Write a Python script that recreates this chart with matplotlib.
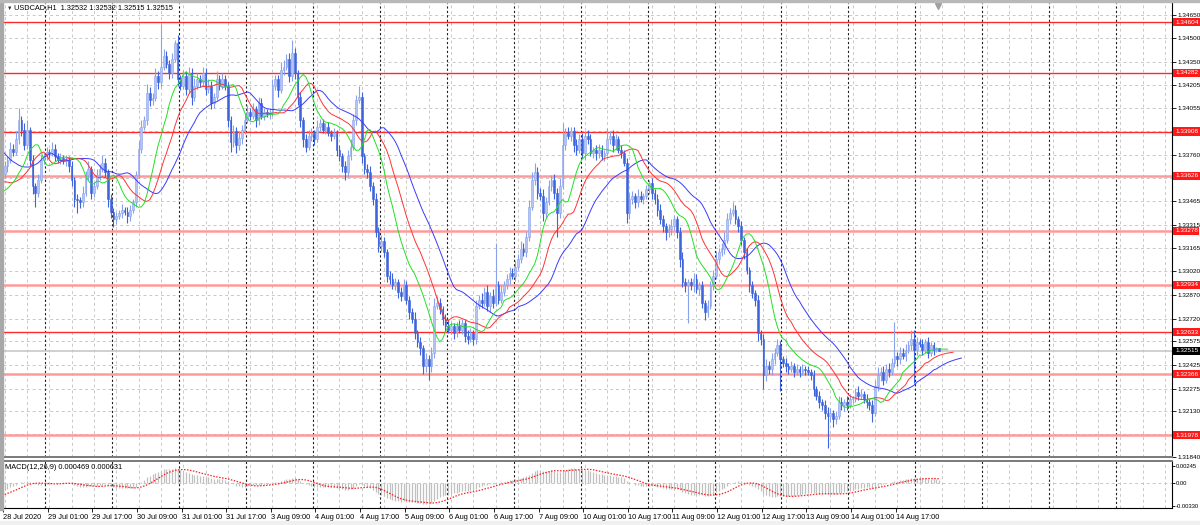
import numpy as np
import pandas as pd
import matplotlib
matplotlib.use("Agg")
import matplotlib.pyplot as plt
import matplotlib.transforms as mtransforms
from matplotlib.patches import Rectangle

# USDCAD H1 closes, 28 Jul 2020 09:00 .. 17 Aug 2020 08:00 (weekends skipped)
closes = [
    1.3369, 1.3373, 1.3380, 1.3378, 1.3386, 1.3398, 1.3392, 1.3382, 1.3392, 1.3373, 1.3356, 1.3352,
    1.3360, 1.3373, 1.3375, 1.3378, 1.3377, 1.3380, 1.3375, 1.3373, 1.3374, 1.3372, 1.3373, 1.3369,
    1.3360, 1.3348, 1.3347, 1.3346, 1.3352, 1.3363, 1.3367, 1.3352, 1.3356, 1.3363, 1.3367, 1.3371,
    1.3365, 1.3348, 1.3340, 1.3335, 1.3337, 1.3339, 1.3341, 1.3340, 1.3337, 1.3341, 1.3346, 1.3363,
    1.3380, 1.3394, 1.3398, 1.3415, 1.3411, 1.3412, 1.3426, 1.3422, 1.3432, 1.3439, 1.3434, 1.3428,
    1.3437, 1.3447, 1.3424, 1.3420, 1.3426, 1.3418, 1.3428, 1.3413, 1.3420, 1.3424, 1.3422, 1.3428,
    1.3418, 1.3420, 1.3409, 1.3413, 1.3424, 1.3420, 1.3424, 1.3420, 1.3398, 1.3384, 1.3391, 1.3382,
    1.3387, 1.3392, 1.3398, 1.3403, 1.3401, 1.3405, 1.3398, 1.3409, 1.3401, 1.3403, 1.3402, 1.3403,
    1.3420, 1.3424, 1.3417, 1.3430, 1.3432, 1.3437, 1.3426, 1.3441, 1.3428, 1.3413, 1.3398, 1.3386,
    1.3381, 1.3388, 1.3390, 1.3386, 1.3394, 1.3396, 1.3392, 1.3394, 1.3390, 1.3388, 1.3390, 1.3379,
    1.3375, 1.3369, 1.3365, 1.3375, 1.3381, 1.3398, 1.3411, 1.3413, 1.3375, 1.3367, 1.3365, 1.3356,
    1.3348, 1.3327, 1.3318, 1.3321, 1.3314, 1.3299, 1.3297, 1.3293, 1.3295, 1.3289, 1.3286, 1.3293,
    1.3284, 1.3276, 1.3272, 1.3263, 1.3257, 1.3253, 1.3242, 1.3246, 1.3242, 1.3250, 1.3280, 1.3282,
    1.3278, 1.3272, 1.3267, 1.3265, 1.3267, 1.3263, 1.3267, 1.3265, 1.3269, 1.3261, 1.3259, 1.3263,
    1.3259, 1.3280, 1.3284, 1.3282, 1.3289, 1.3280, 1.3286, 1.3282, 1.3293, 1.3284, 1.3289, 1.3293,
    1.3297, 1.3301, 1.3299, 1.3305, 1.3310, 1.3316, 1.3314, 1.3324, 1.3343, 1.3360, 1.3365, 1.3352,
    1.3350, 1.3339, 1.3346, 1.3356, 1.3360, 1.3352, 1.3339, 1.3356, 1.3382, 1.3390, 1.3388, 1.3391,
    1.3382, 1.3379, 1.3386, 1.3377, 1.3388, 1.3386, 1.3377, 1.3379, 1.3377, 1.3379, 1.3375, 1.3377,
    1.3386, 1.3388, 1.3382, 1.3386, 1.3379, 1.3377, 1.3371, 1.3339, 1.3348, 1.3350, 1.3346, 1.3350,
    1.3348, 1.3350, 1.3354, 1.3358, 1.3352, 1.3348, 1.3341, 1.3335, 1.3331, 1.3327, 1.3329, 1.3331,
    1.3335, 1.3327, 1.3310, 1.3295, 1.3293, 1.3295, 1.3293, 1.3297, 1.3291, 1.3293, 1.3282, 1.3276,
    1.3280, 1.3293, 1.3299, 1.3310, 1.3314, 1.3316, 1.3322, 1.3335, 1.3339, 1.3341, 1.3335, 1.3331,
    1.3322, 1.3314, 1.3303, 1.3293, 1.3288, 1.3284, 1.3263, 1.3259, 1.3236, 1.3242, 1.3240, 1.3246,
    1.3250, 1.3255, 1.3246, 1.3244, 1.3242, 1.3240, 1.3242, 1.3238, 1.3240, 1.3238, 1.3240, 1.3239,
    1.3238, 1.3236, 1.3227, 1.3223, 1.3219, 1.3217, 1.3212, 1.3210, 1.3212, 1.3208, 1.3210, 1.3219,
    1.3217, 1.3219, 1.3217, 1.3221, 1.3221, 1.3225, 1.3223, 1.3224, 1.3221, 1.3219, 1.3217, 1.3212,
    1.3229, 1.3236, 1.3238, 1.3233, 1.3240, 1.3238, 1.3244, 1.3248, 1.3246, 1.3250, 1.3248, 1.3252,
    1.3255, 1.3259, 1.3252, 1.3257, 1.3256, 1.3252, 1.3257, 1.3250, 1.3255, 1.3252, 1.3253, 1.32515,
]

# wick lengths in pips above / below the candle body
up_wick = [
    3, 2, 4, 3, 5, 8, 3, 4, 6, 2, 3, 2,
    4, 3, 2, 3, 2, 4, 3, 2, 3, 2, 3, 2,
    3, 2, 3, 2, 4, 3, 5, 2, 3, 4, 3, 5,
    3, 2, 3, 2, 3, 2, 4, 2, 3, 3, 2, 3,
    5, 4, 3, 6, 4, 3, 5, 3, 27, 4, 3, 2,
    4, 2, 5, 3, 4, 3, 4, 3, 5, 4, 3, 4,
    3, 4, 3, 2, 5, 3, 4, 3, 2, 3, 4, 3,
    4, 3, 4, 5, 3, 4, 2, 4, 3, 3, 2, 3,
    4, 3, 3, 5, 4, 3, 4, 8, 3, 2, 3, 2,
    3, 4, 3, 2, 4, 3, 3, 2, 3, 2, 3, 2,
    3, 2, 3, 4, 5, 4, 3, 7, 3, 2, 3, 4,
    3, 4, 3, 4, 3, 2, 3, 4, 3, 2, 3, 4,
    3, 2, 3, 4, 2, 3, 2, 4, 3, 4, 5, 4,
    3, 2, 3, 4, 3, 2, 3, 4, 3, 2, 4, 3,
    2, 4, 3, 4, 3, 4, 3, 5, 27, 3, 4, 3,
    3, 4, 3, 4, 3, 5, 4, 3, 4, 5, 6, 3,
    3, 4, 3, 4, 3, 4, 3, 5, 14, 3, 4, 3,
    3, 4, 3, 4, 3, 4, 3, 2, 3, 4, 3, 2,
    7, 3, 4, 3, 2, 3, 2, 3, 4, 3, 2, 4,
    3, 2, 3, 2, 3, 2, 3, 4, 3, 2, 3, 4,
    3, 2, 3, 4, 3, 2, 3, 4, 3, 2, 3, 2,
    4, 3, 4, 5, 3, 4, 5, 4, 3, 5, 3, 2,
    3, 2, 3, 2, 3, 2, 3, 2, 3, 4, 3, 4,
    3, 4, 3, 2, 3, 2, 3, 2, 3, 2, 3, 2,
    3, 2, 3, 2, 3, 2, 3, 4, 3, 2, 3, 4,
    3, 2, 4, 3, 2, 3, 4, 3, 2, 3, 2, 3,
    4, 5, 3, 4, 3, 4, 3, 22, 3, 4, 3, 4,
    3, 6, 6, 3, 2, 3, 2, 3, 2, 2, 1, 0,
]
down_wick = [
    3, 4, 2, 3, 2, 3, 4, 3, 2, 4, 5, 9,
    3, 2, 3, 2, 3, 2, 3, 2, 3, 2, 3, 4,
    4, 5, 8, 4, 3, 2, 3, 4, 3, 2, 3, 2,
    3, 5, 4, 5, 3, 2, 3, 2, 4, 3, 2, 3,
    2, 3, 2, 3, 4, 3, 2, 4, 3, 2, 3, 4,
    3, 2, 4, 3, 2, 4, 3, 5, 3, 2, 3, 2,
    4, 3, 4, 3, 2, 3, 2, 3, 4, 6, 3, 5,
    3, 4, 3, 2, 3, 2, 4, 3, 2, 3, 2, 3,
    2, 3, 4, 2, 3, 2, 4, 3, 4, 5, 4, 5,
    3, 2, 3, 4, 2, 3, 2, 3, 2, 3, 2, 4,
    3, 4, 5, 3, 2, 2, 3, 2, 4, 3, 4, 3,
    4, 3, 4, 3, 3, 4, 3, 2, 3, 4, 3, 2,
    3, 4, 3, 4, 3, 4, 5, 4, 9, 4, 3, 2,
    3, 4, 3, 2, 3, 4, 3, 2, 3, 4, 3, 2,
    4, 3, 2, 3, 2, 3, 4, 3, 2, 3, 2, 3,
    2, 3, 2, 3, 2, 3, 2, 3, 3, 2, 3, 4,
    3, 5, 3, 2, 3, 4, 15, 3, 2, 3, 2, 3,
    4, 3, 2, 3, 4, 3, 2, 3, 4, 3, 2, 3,
    2, 3, 4, 3, 2, 3, 2, 6, 4, 3, 4, 3,
    2, 3, 2, 3, 4, 3, 4, 3, 4, 5, 3, 4,
    3, 4, 5, 3, 4, 24, 3, 4, 3, 4, 3, 5,
    3, 2, 3, 2, 3, 2, 3, 2, 3, 2, 3, 4,
    3, 4, 3, 4, 3, 4, 5, 4, 9, 4, 3, 4,
    3, 2, 20, 3, 4, 3, 2, 3, 2, 3, 2, 3,
    2, 3, 4, 3, 4, 3, 4, 20, 4, 5, 3, 2,
    3, 4, 3, 2, 3, 2, 3, 2, 3, 4, 3, 6,
    2, 3, 4, 3, 2, 3, 2, 3, 4, 3, 2, 3,
    2, 3, 21, 3, 2, 3, 2, 3, 2, 3, 1, 0,
]

# bars before the visible window, only used to warm up the indicators
pre_closes = [
    1.3430, 1.3432, 1.3426, 1.3428, 1.3420, 1.3416, 1.3418, 1.3410, 1.3404, 1.3398,
    1.3392, 1.3385, 1.3378, 1.3370, 1.3362, 1.3355, 1.3348, 1.3342, 1.3338, 1.3340,
    1.3336, 1.3342, 1.3348, 1.3352, 1.3350, 1.3356, 1.3358, 1.3355, 1.3360, 1.3364,
]

level_lines = [1.34604, 1.34282, 1.33908, 1.33626, 1.33278, 1.32934, 1.32633, 1.32366, 1.31978]
level_thin = [True, True, True, False, False, False, True, False, False]
bid = 1.32515
price_ticks = [1.34650, 1.34500, 1.34350, 1.34205, 1.34055, 1.33910, 1.33760, 1.33615, 1.33465,
               1.33315, 1.33165, 1.33020, 1.32870, 1.32720, 1.32575, 1.32425, 1.32275, 1.32130,
               1.31985, 1.31840]
hidden_ticks = [1.33910, 1.33615, 1.31985]  # covered by the level tags
macd_ticks = [0.00245, 0.0, -0.00330]
macd_tick_labels = ["0.00245", "0.00", "-0.00330"]
header = "USDCAD,H1  1.32532 1.32532 1.32515 1.32515"
macd_header = "MACD(12,26,9) 0.000469 0.000631"

FONT = ["Liberation Sans", "DejaVu Sans"]
FS = 5.3    # chart texts
FS_AX = 4.6  # price scale
W, H = 1200, 525


def smma(values, n):
    return pd.Series(values).ewm(alpha=1.0 / n, adjust=False).mean().values


hours = pd.date_range("2020-07-28 09:00", "2020-08-17 08:00", freq="h")
times = hours[hours.dayofweek < 5]
n = len(closes)
assert len(times) == n == len(up_wick) == len(down_wick)

c = np.array(closes)
o = np.r_[pre_closes[-1], c[:-1]]
hi = np.maximum(o, c) + np.array(up_wick) * 1e-4
lo = np.minimum(o, c) - np.array(down_wick) * 1e-4
x = np.arange(n)

# indicators: alligator on median price, macd on close
npre = len(pre_closes)
x_full = np.arange(-npre, n)
median = np.r_[pre_closes, (hi + lo) / 2]
close_full = np.r_[pre_closes, c]
jaw = smma(median, 13)
teeth = smma(median, 8)
lips = smma(median, 5)
s = pd.Series(close_full)
macd_main = (s.ewm(span=12, adjust=False).mean() - s.ewm(span=26, adjust=False).mean()).values
macd_sig = pd.Series(macd_main).rolling(9, min_periods=1).mean().values

fig = plt.figure(figsize=(12, 5.25), dpi=100)
fig.patch.set_facecolor("white")
ax = fig.add_axes([3 / W, 1 - 457 / H, 1169 / W, 454 / H])
ax2 = fig.add_axes([3 / W, 1 - 508 / H, 1169 / W, 47 / H], sharex=ax)

x_left, x_right = -0.5, 418.5
ax.set_xlim(x_left, x_right)
ax.set_ylim(1.31845, 1.34725)
ax2.set_ylim(-0.0036, 0.0032)

# grid and period separators
grid_kw = dict(color="#c8c8c8", lw=0.7, ls=(0, (3, 3)), zorder=0)
for gx in np.arange(0, x_right, 8):
    ax.axvline(gx, **grid_kw)
    ax2.axvline(gx, **grid_kw)
sep_bars = [i for i, t in enumerate(times) if t.hour == 0]
sep_bars += list(range(sep_bars[-1] + 24, int(x_right), 24))
for sb in sep_bars:
    ax.axvline(sb - 0.5, color="#202020", lw=0.8, ls=(0, (2, 2)), zorder=0.5)
    ax2.axvline(sb - 0.5, color="#202020", lw=0.8, ls=(0, (2, 2)), zorder=0.5)
for py in price_ticks:
    ax.axhline(py, **grid_kw)
ax2.axhline(0, **grid_kw)

# horizontal levels
for lv, thin in zip(level_lines, level_thin):
    if thin:
        ax.axhline(lv, color="#ff2a2a", lw=1.0, zorder=1)
    else:
        ax.axhline(lv, color="#ff9a9a", lw=1.8, zorder=1)
ax.axhline(bid, color="#c8c8c8", lw=1.2, zorder=1)

# candles
bull = c >= o
ax.vlines(x[bull], lo[bull], hi[bull], color="#8aa2ec", lw=0.8, zorder=2)
ax.vlines(x[~bull], lo[~bull], hi[~bull], color="#3d64db", lw=0.8, zorder=2)
body_h = np.maximum(np.abs(c - o), 0.00002)
ax.bar(x[bull], body_h[bull], bottom=np.minimum(o, c)[bull], width=0.62,
       color="#b3c4f5", edgecolor="#8aa2ec", lw=0.4, zorder=2.1)
ax.bar(x[~bull], body_h[~bull], bottom=np.minimum(o, c)[~bull], width=0.62,
       color="#3d64db", edgecolor="#3d64db", lw=0.4, zorder=2.1)

# alligator lines (shifted forward)
ax.plot(x_full + 8, jaw, color="#3a3aff", lw=0.7, zorder=3)
ax.plot(x_full + 5, teeth, color="#ff3333", lw=0.7, zorder=3)
ax.plot(x_full + 3, lips, color="#22e022", lw=0.7, zorder=3)

# macd panel
vis = x_full >= 0
ax2.vlines(x_full[vis], 0, macd_main[vis], color="#c0c0c0", lw=0.9, zorder=2)
ax2.plot(x_full[vis], macd_sig[vis], color="#ff2020", lw=0.9, ls=(0, (1.2, 1.2)), zorder=3)

# right price axis
for a in (ax, ax2):
    a.yaxis.tick_right()
    a.tick_params(axis="y", length=3, width=0.6, pad=0.8, labelsize=FS_AX, colors="black")
    a.set_facecolor("white")
    a.spines["left"].set_visible(False)
    a.spines["right"].set_color("black")
    a.spines["right"].set_linewidth(0.8)
ax.set_yticks(price_ticks)
ax.set_yticklabels(["" if p in hidden_ticks else f"{p:.5f}" for p in price_ticks],
                   fontfamily=FONT)
ax.spines["top"].set_visible(False)
ax.spines["bottom"].set_color("#7a7a7a")
ax.spines["bottom"].set_linewidth(1.4)
ax.tick_params(axis="x", bottom=False, labelbottom=False)
ax2.set_yticks(macd_ticks)
ax2.set_yticklabels(macd_tick_labels, fontfamily=FONT)
ax2.tick_params(axis="y", labelsize=4.2, pad=0.4, length=2.5)
ax2.spines["top"].set_color("#7a7a7a")
ax2.spines["top"].set_linewidth(1.4)
ax2.spines["bottom"].set_color("black")
ax2.spines["bottom"].set_linewidth(0.8)

# time labels every 16 bars
lab_bars = list(range(0, n, 16))
lab_text = []
for k, b in enumerate(lab_bars):
    t = times[b]
    lab_text.append(f"{t.day} {t:%b %Y}" if k == 0 else f"{t.day} {t:%b %H:%M}")
ax2.set_xticks([b - 0.6 for b in lab_bars])
ax2.set_xticklabels(lab_text, fontfamily=FONT, fontsize=FS, ha="left")
ax2.tick_params(axis="x", length=3, width=0.6, pad=1.5)

# level tags on the price axis
tag = mtransforms.blended_transform_factory(ax.transAxes, ax.transData)
for lv in level_lines:
    ax.text(1.0 + 3 / 1169, lv, f"{lv:.5f}", transform=tag, ha="left", va="center",
            fontsize=FS_AX, color="white", fontfamily=FONT, zorder=10, clip_on=False,
            bbox=dict(boxstyle="square,pad=0.25", fc="#ff1a1a", ec="none"))
ax.text(1.0 + 3 / 1169, bid, f"{bid:.5f}", transform=tag, ha="left", va="center",
        fontsize=FS_AX, color="white", fontfamily=FONT, zorder=10, clip_on=False,
        bbox=dict(boxstyle="square,pad=0.25", fc="black", ec="none"))

# headers
ax.text(0.0035, 0.989, "\u25bc", transform=ax.transAxes, fontsize=4, va="center",
        color="#303030", fontfamily=FONT)
ax.text(0.0095, 0.989, header, transform=ax.transAxes, fontsize=FS, va="center",
        fontfamily=FONT, color="black")
ax2.text(0.0017, 0.87, macd_header, transform=ax2.transAxes, fontsize=FS, va="center",
         fontfamily=FONT, color="black")
ax.plot([334.5], [0.993], marker="v", ms=4, color="#a0a0a0",
        transform=mtransforms.blended_transform_factory(ax.transData, ax.transAxes),
        clip_on=False, zorder=5)

# window frame strips
fig.patches.append(Rectangle((0, 1 - 510 / H), 3 / W, 510 / H, transform=fig.transFigure,
                             color="#a8a8a8", zorder=0))
fig.patches.append(Rectangle((0, 1 - 2 / H), 1, 2 / H, transform=fig.transFigure,
                             color="#b8b8b8", zorder=0))
fig.patches.append(Rectangle((0, 0), 1, 4 / H, transform=fig.transFigure,
                             color="#f0f0f0", zorder=0))

fig.savefig("out.png", dpi=100)
